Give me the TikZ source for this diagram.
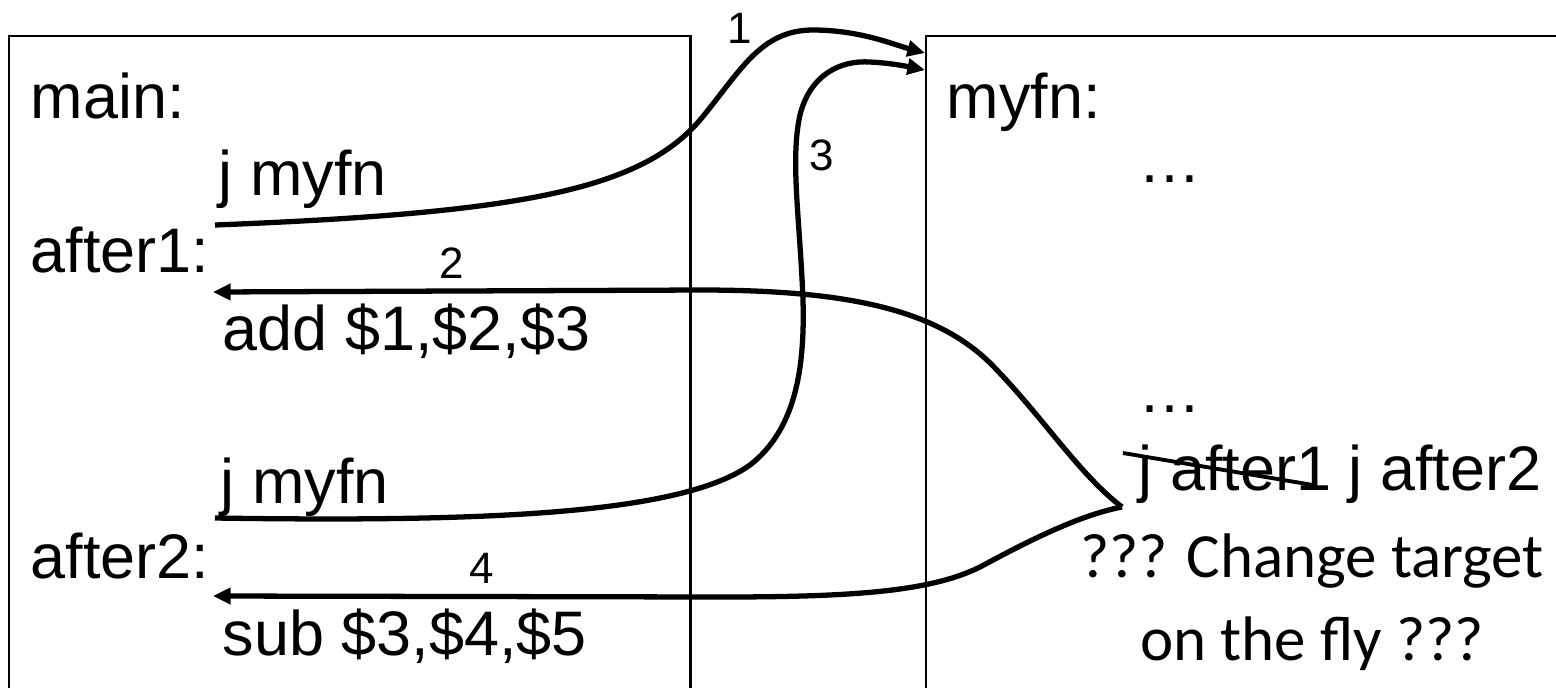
\documentclass[tikz,border=0pt]{standalone}
\usepackage{fontspec}
\setmainfont{Liberation Sans}
\newfontfamily\carlito{Carlito}
\usepackage{tikz}
\usetikzlibrary{arrows.meta,positioning}
\tikzset{
    caixa/.style={
        draw,
        line width=0.6pt,
        anchor=north west,
        inner sep=0pt,
        minimum width=6.81cm,
        minimum height=7cm
    },
    instr/.style={anchor=base west, inner sep=0pt, font=\fontsize{17.9}{21.5}\selectfont},
    numero/.style={anchor=base, inner sep=0pt, font=\fontsize{12.5}{15}\selectfont},
    nota/.style={align=center, anchor=base, inner sep=0pt, font=\carlito\fontsize{17.9}{23.6}\selectfont},
    salto/.style={-{Triangle[length=5pt,width=4.5pt]}, line width=1.5pt},
    risco/.style={line width=1.1pt}
}

\begin{document}
\begin{tikzpicture}[x=0.01cm, y=-0.01cm]
        \path[use as bounding box, clip] (0,0) rectangle (1556,687);

        % caixas das duas rotinas
        \node[caixa] (caixaMain) at (8,35) {};
        \node[caixa, minimum width=7cm] (caixaFn) at (925,35) {};

        % main
        \node[instr] (lmain) at (30,118) {main:};
        \node[instr] (ljmp1) at (218,195) {j myfn};
        \node[instr] (lafter1) at (30,272) {after1:};
        \node[instr] (ladd) at (222,350) {add \$1,\$2,\$3};
        \node[instr] (ljmp2) at (220,503) {j myfn};
        \node[instr] (lafter2) at (30,578) {after2:};
        \node[instr] (lsub) at (222,655) {sub \$3,\$4,\$5};

        % myfn
        \node[instr] (lmyfn) at (946,118) {myfn:};
        \node[instr] (pontos1) at (1138,182) {…};
        \node[instr] (pontos2) at (1138,412) {…};
        \node[instr] (lpatch) at (1138,490) {j after1 j after2};
        \draw[risco] (1123,453) -- (1313,485);
        \node[nota] (lnota) at (1312,660) {??? Change target\\on the fly ???};

        % pontos de saida e chegada
        \coordinate (saida1) at (215,225);
        \coordinate (saida2) at (215,518);
        \coordinate (volta1) at (213,292);
        \coordinate (volta2) at (213,596);
        \coordinate (entrada1) at (925,53);
        \coordinate (entrada2) at (925,70);
        \coordinate (desvio) at (1122,507);

        \draw[salto] (saida1) .. controls (520,213) and (640,190) .. (700,120)
            .. controls (740,72) and (760,30) .. (813,30)
            .. controls (860,30) and (895,45) .. (entrada1);
        \draw[salto] (desvio) .. controls (1080,475) and (1045,420) .. (995,368)
            .. controls (940,310) and (850,290) .. (700,290) -- (volta1);
        \draw[salto] (saida2) .. controls (480,522) and (680,515) .. (750,465)
            .. controls (795,430) and (805,370) .. (803,300)
            .. controls (800,220) and (790,160) .. (800,115)
            .. controls (810,75) and (840,60) .. (870,62)
            .. controls (890,63) and (905,66) .. (entrada2);
        \draw[salto] (desvio) .. controls (1080,515) and (1030,540) .. (980,567)
            .. controls (930,592) and (850,597) .. (720,597) -- (volta2);

        \node[numero] (num1) at (740,43) {1};
        \node[numero] (num2) at (452,278) {2};
        \node[numero] (num3) at (822,170) {3};
        \node[numero] (num4) at (482,583) {4};
    \end{tikzpicture}
\end{document}
